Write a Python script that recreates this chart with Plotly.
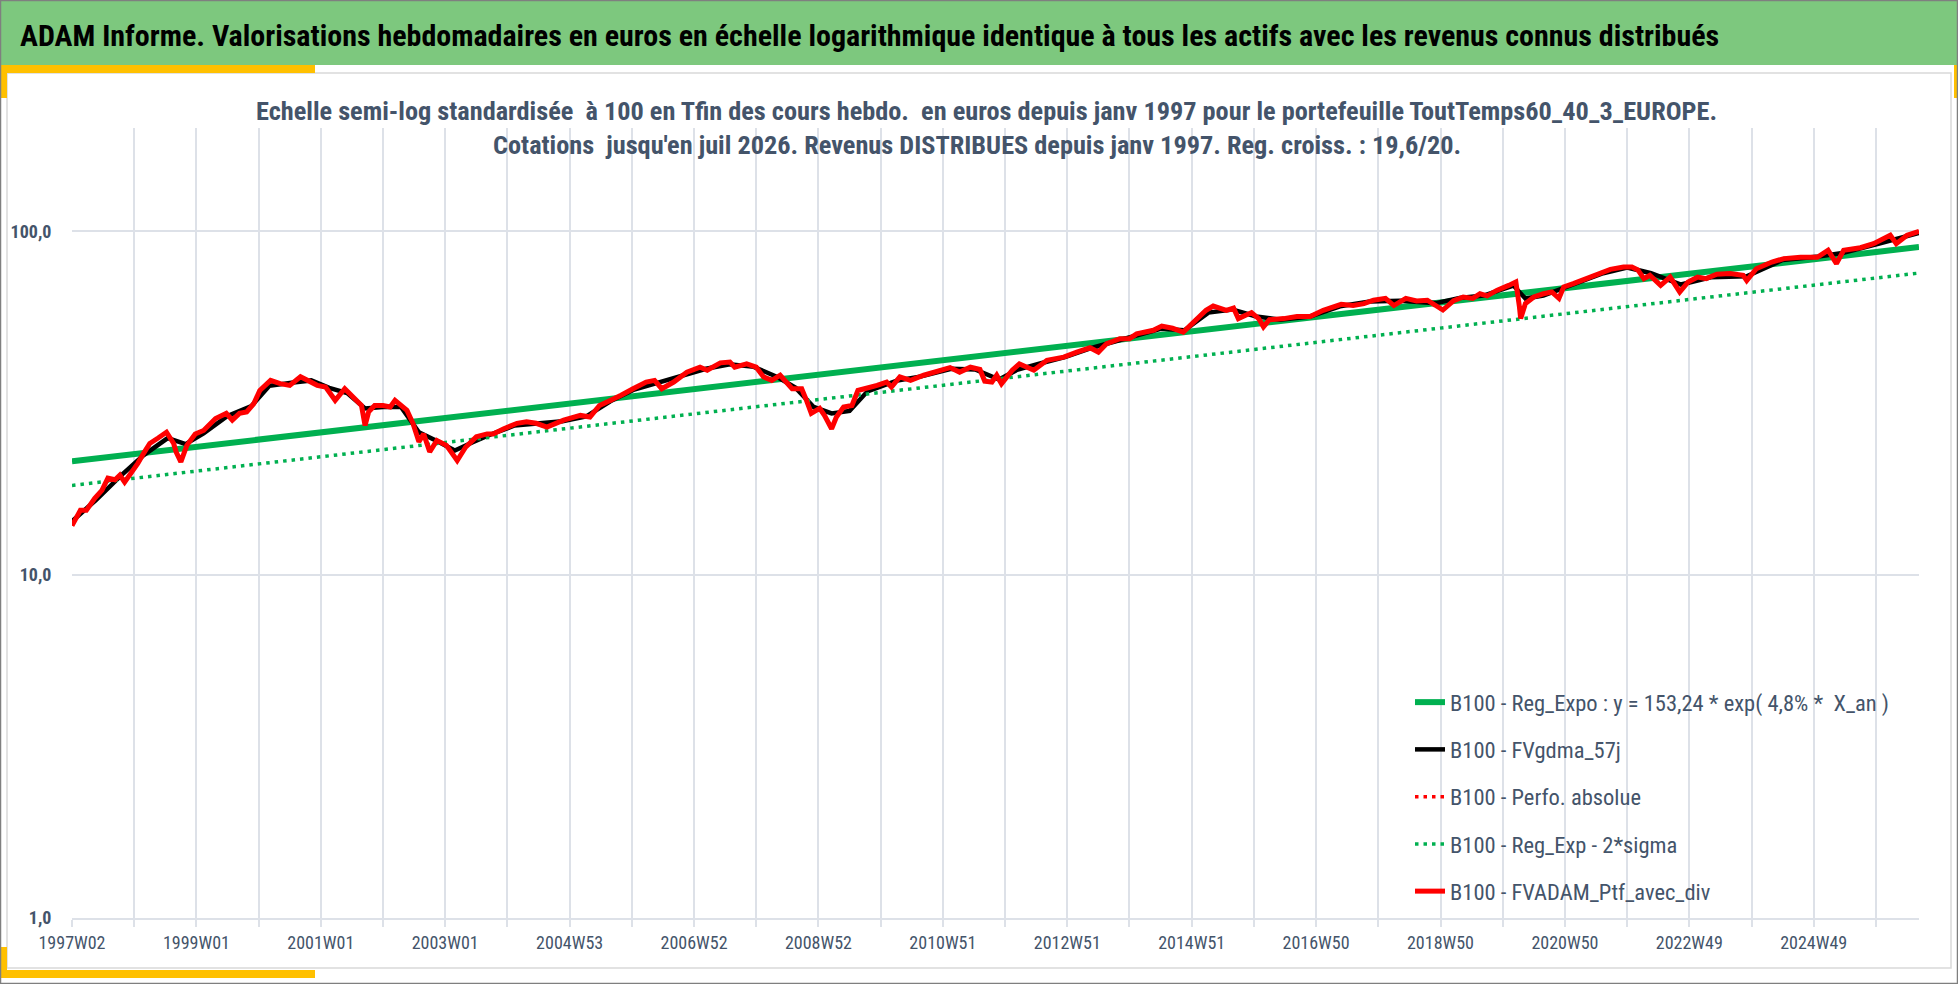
import math
import plotly.graph_objects as go

# ── Figure geometry (pixels of the 1958x984 page) ─────────────────────────────
FIG_W, FIG_H = 1958, 984
PLOT_L, PLOT_R, PLOT_T, PLOT_B = 72, 1919, 128, 918

NARROW = "Liberation Sans Narrow, Arial Narrow, Roboto Condensed, sans-serif"
TXT = "#44546A"
GRID = "#DDE1E8"

TITLE = ("ADAM Informe. Valorisations hebdomadaires en euros en échelle logarithmique "
         "identique à tous les actifs avec les revenus connus distribués")
SUBTITLE_1 = ("Echelle semi-log standardisée  à 100 en Tfin des cours hebdo.  en euros depuis "
              "janv 1997 pour le portefeuille ToutTemps60_40_3_EUROPE.")
SUBTITLE_2 = "Cotations  jusqu'en juil 2026. Revenus DISTRIBUES depuis janv 1997. Reg. croiss. : 19,6/20."

# ── Data ──────────────────────────────────────────────────────────────────────
N_WEEKS = 1545          # 1997W02 .. 2026 (juil.)
LABEL_STEP = 104        # one label every two years of weekly quotes
GRID_STEP = 52

week_labels = ["1997W02", "1999W01", "2001W01", "2003W01", "2004W53", "2006W52",
               "2008W52", "2010W51", "2012W51", "2014W51", "2016W50", "2018W50",
               "2020W50", "2022W49", "2024W49"]

# B100 - FVADAM_Ptf_avec_div (week index, value)
ptf_week = [0, 7, 12, 19, 25, 30, 36, 40, 44, 50, 55, 60, 65, 72, 79, 85, 87, 91, 96,
            103, 110, 120, 129, 134, 140, 146, 152, 157, 166, 174, 182, 191, 198, 205,
            212, 220, 228, 235, 242, 245, 248, 253, 260, 266, 270, 280, 285, 290, 294,
            299, 305, 313, 322, 329, 338, 347, 352, 361, 372, 380, 388, 397, 411, 425,
            433, 441, 455, 459, 469, 480, 487, 493, 503, 514, 525, 531, 542, 550, 554,
            564, 572, 578, 585, 592, 602, 610, 614, 618, 625, 629, 635, 639, 645, 652,
            657, 664, 673, 681, 685, 692, 701, 712, 720, 734, 742, 751, 759, 763, 769,
            773, 777, 786, 792, 804, 815, 829, 840, 851, 858, 865, 876, 884, 890, 904,
            911, 920, 929, 937, 948, 954, 965, 971, 975, 986, 992, 996, 1001, 1013, 1024,
            1035, 1046, 1061, 1071, 1080, 1088, 1098, 1105, 1115, 1124, 1133, 1140, 1146,
            1155, 1163, 1171, 1177, 1183, 1191, 1201, 1207, 1210, 1211, 1215, 1222, 1230,
            1237, 1243, 1247, 1255, 1266, 1275, 1286, 1297, 1304, 1309, 1314, 1319, 1328,
            1336, 1344, 1351, 1359, 1366, 1375, 1386, 1397, 1400, 1408, 1421, 1431, 1445,
            1459, 1468, 1475, 1481, 1495, 1506, 1520, 1525, 1534, 1544]
ptf_val = [13.9, 15.4, 15.4, 16.7, 17.6, 19.1, 18.9, 19.5, 18.6, 19.8, 21.1, 22.6, 24.1,
           25.0, 26.0, 24.1, 22.8, 21.3, 23.8, 25.7, 26.3, 28.5, 29.5, 28.2, 29.5, 29.8,
           31.5, 34.4, 36.8, 36.0, 35.6, 37.7, 36.8, 35.6, 35.2, 32.2, 34.8, 32.9, 31.1,
           27.2, 29.8, 31.1, 31.1, 30.8, 32.2, 30.1, 27.6, 24.4, 25.7, 22.8, 24.6, 23.8,
           21.5, 23.5, 25.2, 25.7, 25.7, 26.6, 27.6, 27.9, 27.6, 26.9, 28.2, 29.1, 28.8,
           31.1, 32.6, 33.3, 34.8, 36.4, 36.8, 34.8, 36.4, 38.9, 40.2, 39.4, 41.4, 41.6,
           40.2, 41.1, 40.2, 37.7, 36.8, 38.1, 34.8, 34.8, 32.2, 29.5, 30.5, 29.1, 26.6,
           28.8, 30.8, 31.1, 34.4, 34.8, 35.6, 36.4, 35.2, 37.7, 36.8, 38.1, 38.9, 40.1,
           38.9, 40.2, 39.6, 36.6, 36.4, 38.1, 36.0, 39.4, 41.1, 39.4, 42.1, 43.0, 44.5,
           45.8, 44.5, 47.1, 48.7, 48.7, 50.3, 51.5, 53.0, 52.2, 50.9, 54.4, 58.9, 60.6,
           58.9, 59.8, 55.7, 58.0, 55.7, 52.7, 55.3, 55.7, 56.5, 56.5, 58.9, 61.3, 60.8,
           61.6, 63.0, 63.8, 60.8, 63.8, 62.7, 63.0, 60.5, 59.0, 62.8, 64.4, 63.8, 65.8,
           64.9, 67.3, 69.6, 71.2, 60.2, 55.7, 61.6, 64.4, 65.8, 66.6, 63.8, 68.9, 70.4,
           72.8, 74.5, 77.5, 78.7, 78.7, 77.2, 72.8, 74.5, 69.6, 73.6, 66.6, 71.2, 73.6,
           72.8, 75.0, 75.4, 74.5, 71.9, 77.8, 81.4, 83.3, 84.0, 84.0, 88.1, 80.5, 88.1,
           89.6, 92.1, 97.4, 92.1, 97.4, 100.0]

# B100 - FVgdma_57j (moving average, mostly hidden under the portfolio line)
mma_week = [0, 20, 40, 60, 80, 95, 110, 130, 150, 165, 185, 200, 215, 230, 245, 260, 275,
            290, 305, 320, 335, 350, 370, 390, 410, 430, 450, 470, 490, 510, 530, 550,
            570, 590, 605, 620, 635, 650, 665, 690, 710, 735, 755, 775, 790, 810, 830,
            850, 870, 890, 910, 930, 950, 970, 990, 1010, 1035, 1060, 1085, 1110, 1140,
            1160, 1180, 1205, 1215, 1230, 1255, 1280, 1300, 1320, 1345, 1370, 1400, 1430,
            1460, 1480, 1510, 1544]
mma_val = [14.3, 16.5, 19.3, 22.3, 25.0, 24.0, 25.8, 29.0, 31.0, 35.5, 36.3, 36.8, 35.0,
           33.8, 30.5, 30.8, 30.8, 26.0, 24.5, 23.0, 24.3, 25.6, 27.2, 27.6, 28.0, 28.9,
           32.0, 34.6, 36.2, 38.0, 39.8, 41.0, 40.3, 37.6, 35.0, 30.8, 29.5, 30.0, 34.2,
           36.8, 37.8, 39.8, 39.6, 37.0, 39.5, 41.3, 43.0, 45.5, 47.6, 50.0, 52.0, 51.5,
           58.0, 59.2, 56.5, 55.3, 56.5, 60.5, 62.5, 62.8, 61.8, 64.0, 65.0, 69.5, 63.7,
           65.0, 69.8, 75.5, 78.5, 75.5, 70.0, 73.5, 74.0, 82.5, 84.5, 86.5, 92.0, 99.0]

# Exponential regression and regression - 2 sigma (straight on a log scale)
reg_week = [0, 1544]
reg_val = [21.4, 90.0]
reg_low_val = [18.2, 75.6]


def px_x(px):
    return (px - PLOT_L) / (PLOT_R - PLOT_L)


def px_y(py):
    return (PLOT_B - py) / (PLOT_B - PLOT_T)


fig = go.Figure()

series = [
    ("B100 - Reg_Expo : y = 153,24 * exp( 4,8% *  X_an )", reg_week, reg_val,
     dict(color="#00B050", width=6)),
    ("B100 - FVgdma_57j", mma_week, mma_val, dict(color="#000000", width=4.5)),
    ("B100 - Perfo. absolue", ptf_week, ptf_val, dict(color="#FF0000", width=3.5, dash="3.5px,5px")),
    ("B100 - Reg_Exp - 2*sigma", reg_week, reg_low_val,
     dict(color="#00B050", width=3.5, dash="3.5px,5px")),
    ("B100 - FVADAM_Ptf_avec_div", ptf_week, ptf_val, dict(color="#FF0000", width=5)),
]
for i, (name, xs, ys, line) in enumerate(series):
    fig.add_trace(go.Scatter(
        x=xs, y=ys, mode="lines", name=name, line=line,
        legendgroup=f"g{i}", hoverinfo="x+y",
    ))

# ── x ticks: grid every 52 weeks, label every 104 ─────────────────────────────
tick_vals = list(range(0, N_WEEKS, GRID_STEP))
tick_text = [week_labels[v // LABEL_STEP] if v % LABEL_STEP == 0 else "" for v in tick_vals]

# ── Decorations (header band, frame, yellow corners) ──────────────────────────
def rect(x0, y0, x1, y1, fill, line_color=None, width=0):
    return dict(type="rect", xref="paper", yref="paper", layer="below",
                x0=px_x(x0), x1=px_x(x1), y0=px_y(y0), y1=px_y(y1),
                fillcolor=fill, line=dict(color=line_color or fill, width=width))


shapes = [
    rect(0, 0, FIG_W, 65, "#7DC87E"),
    rect(7, 73, FIG_W - 7, 968, "rgba(0,0,0,0)", "#D9D9D9", 1.5),
    rect(0, 65, 315, 73, "#FFC000"),
    rect(0, 65, 7, 98, "#FFC000"),
    rect(0, 970, 315, 978, "#FFC000"),
    rect(0, 947, 7, 978, "#FFC000"),
    rect(FIG_W - 4, 65, FIG_W, 98, "#FFC000"),
    rect(0.5, 0.5, FIG_W - 0.5, FIG_H - 0.5, "rgba(0,0,0,0)", "#7F7F7F", 1.5),
]

annotations = [
    dict(text=TITLE, x=px_x(18), y=px_y(35), xref="paper", yref="paper",
         xanchor="left", yanchor="middle", showarrow=False,
         font=dict(family=NARROW, size=30, color="#000000", weight="bold")),
    dict(text=SUBTITLE_1, x=px_x(986), y=px_y(111), xref="paper", yref="paper",
         xanchor="center", yanchor="middle", showarrow=False,
         font=dict(family=NARROW, size=26.3, color=TXT, weight="bold")),
    dict(text=SUBTITLE_2, x=px_x(977), y=px_y(145), xref="paper", yref="paper",
         xanchor="center", yanchor="middle", showarrow=False,
         font=dict(family=NARROW, size=26.3, color=TXT, weight="bold")),
]

fig.update_layout(
    width=FIG_W, height=FIG_H,
    margin=dict(l=PLOT_L, r=FIG_W - PLOT_R, t=PLOT_T, b=FIG_H - PLOT_B),
    paper_bgcolor="white", plot_bgcolor="white",
    separators=", ",
    font=dict(family=NARROW, color=TXT),
    shapes=shapes,
    annotations=annotations,
    xaxis=dict(
        range=[0, N_WEEKS - 1], tickmode="array", tickvals=tick_vals, ticktext=tick_text,
        showgrid=True, gridcolor=GRID, gridwidth=1.5, zeroline=False,
        showline=True, linecolor=GRID, linewidth=2,
        ticks="outside", ticklen=7, tickcolor=GRID, tickwidth=1.5,
        tickfont=dict(family=NARROW, size=18, color=TXT),
    ),
    yaxis=dict(
        type="log", range=[0, math.log10(200)], tickmode="array", tickvals=[1, 10, 100],
        tickformat=".1f", showgrid=True, gridcolor=GRID, gridwidth=1.5, zeroline=False,
        showline=False, ticks="outside", ticklen=16, tickcolor="rgba(0,0,0,0)",
        tickfont=dict(family=NARROW, size=18, color=TXT, weight="bold"),
    ),
    legend=dict(
        x=px_x(1410), y=px_y(681), xanchor="left", yanchor="top",
        bgcolor="rgba(0,0,0,0)", font=dict(family=NARROW, size=22.5, color=TXT),
        traceorder="grouped", tracegroupgap=15,
    ),
    showlegend=True,
)

fig.write_html("out.html", config={"displayModeBar": False},
               post_script="document.body.style.margin='0';")
